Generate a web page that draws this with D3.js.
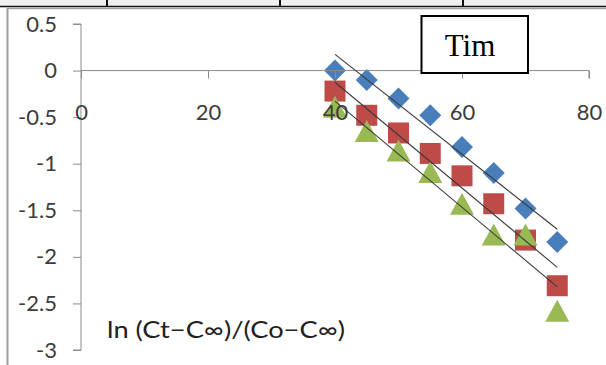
<!DOCTYPE html>
<html>
<head>
<meta charset="utf-8">
<script src="https://cdn.jsdelivr.net/npm/d3@7"></script>
<style>
  body { margin: 0; background: #fff; }
  svg { display: block; }
</style>
</head>
<body>
<svg id="chart" width="606" height="365"></svg>
<script>
// time values (x) and ln values per series
const times = [40, 45, 50, 55, 60, 65, 70, 75];
const blueVals = [0, -0.1, -0.3, -0.48, -0.82, -1.1, -1.48, -1.84];
const redVals = [-0.22, -0.48, -0.67, -0.89, -1.13, -1.43, -1.82, -2.31];
const greenVals = [-0.4, -0.66, -0.87, -1.1, -1.44, -1.77, -1.77, -2.59];
const xTicks = [0, 20, 40, 60, 80];
const yTicks = [0.5, 0, -0.5, -1, -1.5, -2, -2.5, -3];
const boxLabel = 'Tim';
const axisTitle = 'ln (Ct\u2212C\u221e)/(Co\u2212C\u221e)';

const svg = d3.select('#chart');

// page bits around the chart (table stripe + chart frame)
svg.append('rect').attr('x', 0).attr('y', 0).attr('width', 606).attr('height', 6).attr('fill', '#f0f0f0');
svg.append('line').attr('x1', 0).attr('x2', 606).attr('y1', 6.5).attr('y2', 6.5).attr('stroke', '#111').attr('stroke-width', 1.5);
[107, 280, 463].forEach(x => {
    svg.append('line').attr('x1', x).attr('x2', x).attr('y1', 0).attr('y2', 6).attr('stroke', '#111').attr('stroke-width', 2);
});
svg.append('line').attr('x1', 7).attr('x2', 606).attr('y1', 8.5).attr('y2', 8.5).attr('stroke', '#a0a0a0').attr('stroke-width', 1.5);
svg.append('line').attr('x1', 7.5).attr('x2', 7.5).attr('y1', 8).attr('y2', 365).attr('stroke', '#a0a0a0').attr('stroke-width', 2);

const x = d3.scaleLinear().domain([0, 80]).range([81, 589]);
const y = d3.scaleLinear().domain([-3, 0.5]).range([350, 24]);

const font = 'Lato, "Open Sans", sans-serif';
const fmt = d => String(d); // plain hyphen minus like the original

// y axis
const yAxis = svg.append('g')
    .attr('transform', `translate(${x(0)},0)`)
    .call(d3.axisLeft(y).tickValues(yTicks).tickSize(8).tickPadding(16).tickFormat(fmt));
yAxis.select('.domain').attr('stroke', '#8c8c8c').attr('d', `M-8,${y(0.5)}H0V${y(-3)}H-8`);
yAxis.selectAll('.tick line').attr('stroke', '#8c8c8c');
yAxis.selectAll('.tick text').attr('font-family', font).attr('font-size', 22).attr('fill', '#3c3c3c');

// x axis through y=0
const xAxis = svg.append('g')
    .attr('transform', `translate(0,${y(0)})`)
    .call(d3.axisBottom(x).tickValues(xTicks).tickSize(8).tickPadding(26).tickFormat(fmt));
xAxis.select('.domain').attr('stroke', '#8c8c8c').attr('d', `M${x(0)},0H${x(80)}V8`);
xAxis.selectAll('.tick line').attr('stroke', '#8c8c8c');
xAxis.selectAll('.tick text').attr('font-family', font).attr('font-size', 22).attr('fill', '#3c3c3c');

const series = [
    { vals: blueVals, color: '#4a7ebb', shape: 'diamond' },
    { vals: redVals, color: '#be4b48', shape: 'square' },
    { vals: greenVals, color: '#98b954', shape: 'triangle' }
];

function markerPath(shape) {
    if (shape === 'diamond') return 'M0,-11L11,0L0,11L-11,0Z';
    if (shape === 'square') return 'M-10.5,-10.5H10.5V10.5H-10.5Z';
    return 'M0,-12L12,10L-12,10Z';
}

series.forEach(s => {
    svg.append('g').selectAll('path')
        .data(times.map((t, i) => ({ t: t, v: s.vals[i] })))
        .join('path')
        .attr('d', markerPath(s.shape))
        .attr('transform', d => `translate(${x(d.t)},${y(d.v)})`)
        .attr('fill', s.color);
});

// x tick labels sit on top of the markers in the original
xAxis.raise();

// linear trendlines (least squares)
function fit(xs, ys) {
    const mx = d3.mean(xs), my = d3.mean(ys);
    let sxy = 0, sxx = 0;
    xs.forEach((xv, i) => { sxy += (xv - mx) * (ys[i] - my); sxx += (xv - mx) * (xv - mx); });
    const b = sxy / sxx;
    return xv => my + b * (xv - mx);
}

series.forEach(s => {
    const f = fit(times, s.vals);
    const x0 = d3.min(times), x1 = d3.max(times);
    svg.append('line')
        .attr('x1', x(x0)).attr('y1', y(f(x0)))
        .attr('x2', x(x1)).attr('y2', y(f(x1)))
        .attr('stroke', '#3a3a3a').attr('stroke-width', 1.1);
});

// boxed label
svg.append('rect').attr('x', 421.5).attr('y', 16).attr('width', 106.5).attr('height', 57)
    .attr('fill', '#fff').attr('stroke', '#000').attr('stroke-width', 2);
svg.append('text').attr('x', 470).attr('y', 56).attr('text-anchor', 'middle')
    .attr('font-family', '"Liberation Serif", "Times New Roman", serif').attr('font-size', 31)
    .attr('fill', '#000').text(boxLabel);

// axis title inside plot
svg.append('text').attr('x', 107).attr('y', 338)
    .attr('font-family', font).attr('font-size', 23).attr('fill', '#222')
    .attr('textLength', 238).attr('lengthAdjust', 'spacingAndGlyphs')
    .text(axisTitle);
</script>
</body>
</html>
